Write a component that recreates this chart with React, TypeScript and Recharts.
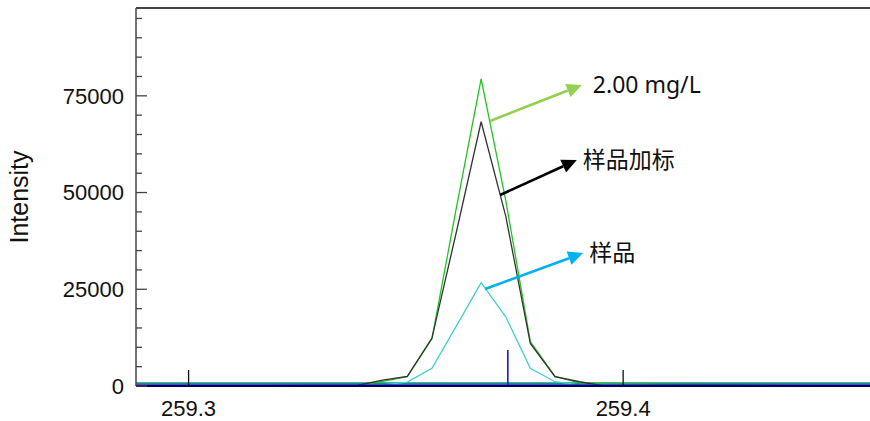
import React from 'react';
import { ComposedChart, Line, XAxis, YAxis, ReferenceLine } from 'recharts';

// m/z grid of the profile spectra
const mz = [
  259.2879, 259.33901, 259.34467, 259.35033, 259.356, 259.36166, 259.36732,
  259.37298, 259.37864, 259.38431, 259.38997, 259.39563, 259.4568,
];
const std200 = [0, 150, 1200, 2400, 12200, 46300, 79400, 48000, 11500, 2500, 800, 600, 0];
const spiked = [0, 200, 1500, 2500, 12400, 40000, 68300, 43900, 11000, 2400, 1100, 0, 0];
const sample = [0, 0, 300, 1000, 4600, 15600, 26700, 17900, 4600, 1100, 300, 0, 0];

// centroid stick
const stickMz = [259.2879, 259.37346, 259.37346, 259.37346, 259.4568];
const stickVal = [260, 260, 9300, 260, 260];

const xTicks = [259.3, 259.4];
const yTicks = [
  0, 5000, 10000, 15000, 20000, 25000, 30000, 35000, 40000, 45000,
  50000, 55000, 60000, 65000, 70000, 75000, 80000, 85000, 90000, 95000,
];
const yMajor = [0, 25000, 50000, 75000];
const yMax = 97700;

// annotation arrows
const arrows = [
  { label: '2.00 mg/L', color: '#92d050', from: [259.36939, 68500], to: [259.39049, 77810] },
  { label: '样品加标', color: '#000000', from: [259.37169, 49370], to: [259.38934, 58420] },
  { label: '样品', color: '#00b0f0', from: [259.36824, 25070], to: [259.39079, 34380] },
];

const toRows = (xs: number[], ys: number[]) => xs.map((x, i) => ({ x, y: ys[i] }));

const AXIS = '#444';
const SANS = '"Liberation Sans", Arial, sans-serif';

const YTick = (props: any) => {
  const { x, y, payload } = props;
  const major = yMajor.includes(payload.value);
  return (
    <g>
      <line x1={x} x2={x + (major ? 11 : 6)} y1={y} y2={y} stroke={AXIS} strokeWidth={1.3} />
      {major && (
        <text x={x - 12} y={y} dy="0.36em" textAnchor="end" fontSize={22} fontFamily={SANS} fill="#111">
          {payload.value}
        </text>
      )}
    </g>
  );
};

const XTick = (props: any) => {
  const { x, y, payload } = props;
  return (
    <g>
      <line x1={x} x2={x} y1={y} y2={y - 16} stroke="#111" strokeWidth={1.3} />
      <text x={x} y={y + 22} dy="0.36em" textAnchor="middle" fontSize={22} fontFamily={SANS} fill="#111">
        {payload.value.toFixed(1)}
      </text>
    </g>
  );
};

const arrowShape = (color: string, label: string) => (props: any) => {
  const { x1, y1, x2, y2 } = props;
  const ang = Math.atan2(y2 - y1, x2 - x1);
  const len = 15;
  const half = 7;
  const bx = x2 - len * Math.cos(ang);
  const by = y2 - len * Math.sin(ang);
  const px = -Math.sin(ang) * half;
  const py = Math.cos(ang) * half;
  const cjk = /[\u4e00-\u9fff]/.test(label);
  return (
    <g>
      <line x1={x1} y1={y1} x2={bx} y2={by} stroke={color} strokeWidth={2.6} />
      <polygon points={`${x2},${y2} ${bx + px},${by + py} ${bx - px},${by - py}`} fill={color} />
      <text
        x={x2 + (cjk ? 6 : 11)}
        y={y2}
        dy="0.35em"
        fontSize={23}
        fontFamily={cjk ? '"Noto Sans CJK SC", sans-serif' : '"Noto Sans", "Open Sans", sans-serif'}
        fill="#111"
      >
        {label}
      </text>
    </g>
  );
};

export default function App() {
  return (
    <div style={{ position: 'absolute', left: 0, top: 0, background: '#fff' }}>
      <ComposedChart width={870} height={421} margin={{ top: 8, right: 0, bottom: 0, left: 0 }}>
        <XAxis
          dataKey="x"
          type="number"
          domain={[259.2879, 259.4568]}
          allowDataOverflow
          ticks={xTicks}
          interval={0}
          height={35}
          tickSize={0}
          tickMargin={0}
          tick={XTick}
          axisLine={{ stroke: '#00005a', strokeWidth: 2 }}
        />
        <YAxis
          type="number"
          domain={[0, yMax]}
          allowDataOverflow
          ticks={yTicks}
          interval={0}
          width={136}
          tickSize={0}
          tickMargin={0}
          tick={YTick}
          axisLine={{ stroke: AXIS, strokeWidth: 1.5 }}
          label={{
            value: 'Intensity',
            angle: -90,
            position: 'insideLeft',
            dx: 14,
            style: { fontSize: 25, fontFamily: SANS, fill: '#111', textAnchor: 'middle' },
          }}
        />
        <ReferenceLine y={yMax} stroke={AXIS} strokeWidth={2} />
        <ReferenceLine y={700} stroke="#168c8c" strokeWidth={2} ifOverflow="hidden" />
        <Line
          data={toRows(mz, std200)}
          dataKey="y"
          type="linear"
          stroke="#22c322"
          strokeWidth={1.3}
          dot={false}
          isAnimationActive={false}
        />
        <Line
          data={toRows(mz, spiked)}
          dataKey="y"
          type="linear"
          stroke="#333333"
          strokeWidth={1.3}
          dot={false}
          isAnimationActive={false}
        />
        <Line
          data={toRows(mz, sample)}
          dataKey="y"
          type="linear"
          stroke="#3fcfcf"
          strokeWidth={1.3}
          dot={false}
          isAnimationActive={false}
        />
        <Line
          data={toRows(stickMz, stickVal)}
          dataKey="y"
          type="linear"
          stroke="#1a1ad6"
          strokeWidth={1.6}
          dot={false}
          isAnimationActive={false}
        />
        {arrows.map((a) => (
          <ReferenceLine
            key={a.label}
            segment={[
              { x: a.from[0], y: a.from[1] },
              { x: a.to[0], y: a.to[1] },
            ]}
            ifOverflow="visible"
            shape={arrowShape(a.color, a.label)}
          />
        ))}
      </ComposedChart>
    </div>
  );
}
